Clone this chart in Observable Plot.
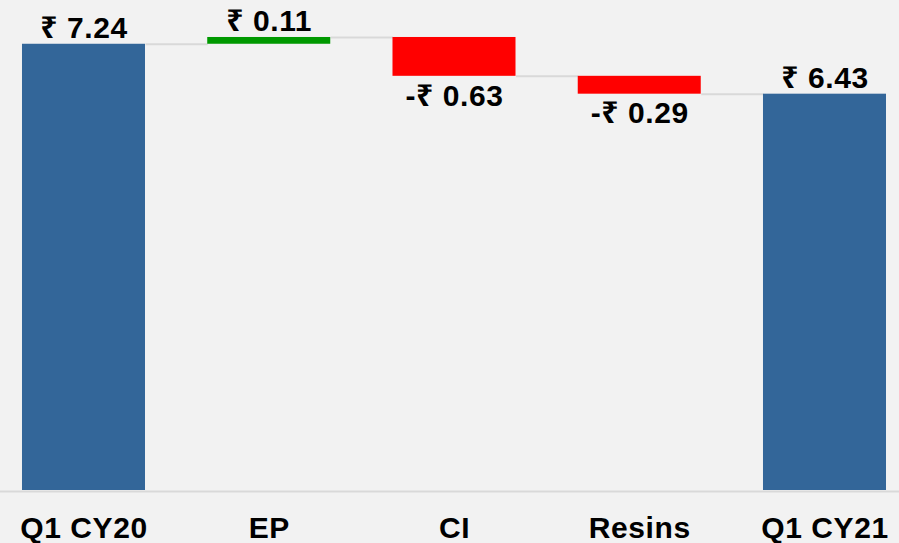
<!DOCTYPE html>
<html>
<head>
<meta charset="utf-8">
<script src="https://cdn.jsdelivr.net/npm/d3@7"></script>
<script src="https://cdn.jsdelivr.net/npm/@observablehq/plot@0.6"></script>
<style>
  html, body { margin: 0; padding: 0; background: #f2f2f2; }
  #chart svg { display: block; }
  #chart svg text { letter-spacing: 0.6px; }
</style>
</head>
<body>
<div id="chart"></div>
<script>
const categories = ["Q1 CY20", "EP", "CI", "Resins", "Q1 CY21"];
const values = [7.24, 0.11, -0.63, -0.29, 6.43];
const kinds = ["total", "delta", "delta", "delta", "total"];
const labels = ["₹ 7.24", "₹ 0.11", "-₹ 0.63", "-₹ 0.29", "₹ 6.43"];

const colorTotal = "#336699";
const colorUp = "#009900";
const colorDown = "#ff0000";
const hw = 0.332; // half bar width in category units

let running = 0;
const rows = categories.map((c, i) => {
  let y1, y2;
  if (kinds[i] === "total") { y1 = 0; y2 = values[i]; running = values[i]; }
  else { y1 = running; y2 = running + values[i]; running = y2; }
  return {
    i, category: c, value: values[i], label: labels[i],
    y1, y2, top: Math.max(y1, y2), bottom: Math.min(y1, y2), end: running,
    fill: kinds[i] === "total" ? colorTotal : (values[i] >= 0 ? colorUp : colorDown)
  };
});
const connectors = rows.slice(0, -1).map(r => ({ i: r.i, level: r.end }));

const chart = Plot.plot({
  width: 899,
  height: 543,
  marginTop: 0,
  marginBottom: 53,
  marginLeft: 0,
  marginRight: 0,
  style: {
    background: "#f2f2f2",
    fontFamily: "'Liberation Sans', Arial, 'Noto Sans', sans-serif",
    fontSize: "30px",
    fontWeight: "bold",
    color: "#000"
  },
  x: { type: "linear", domain: [-0.4507, 4.4022], axis: null },
  y: { domain: [0, 7.95], axis: null },
  marks: [
    Plot.ruleY([0], { stroke: "#d9d9d9", strokeWidth: 2, dy: 1 }),
    Plot.link(connectors, {
      x1: d => d.i + hw, x2: d => d.i + 1 - hw,
      y1: "level", y2: "level",
      stroke: "#d9d9d9", strokeWidth: 2
    }),
    Plot.rectY(rows, {
      x1: d => d.i - hw, x2: d => d.i + hw,
      y1: "y1", y2: "y2", fill: "fill"
    }),
    Plot.text(rows.filter(r => r.value >= 0), {
      x: "i", y: "top", text: "label",
      lineAnchor: "bottom", dy: -6, fill: "#000",
      fontSize: 30, fontWeight: "bold"
    }),
    Plot.text(rows.filter(r => r.value < 0), {
      x: "i", y: "bottom", text: "label",
      lineAnchor: "top", dy: 8, fill: "#000",
      fontSize: 30, fontWeight: "bold"
    }),
    Plot.axisX({
      ticks: categories.map((c, i) => i),
      tickFormat: i => categories[i],
      tickSize: 0, tickPadding: 26, label: null,
      fontSize: 30, fontWeight: "bold", fill: "#000"
    })
  ]
});
document.getElementById("chart").appendChild(chart);
</script>
</body>
</html>
